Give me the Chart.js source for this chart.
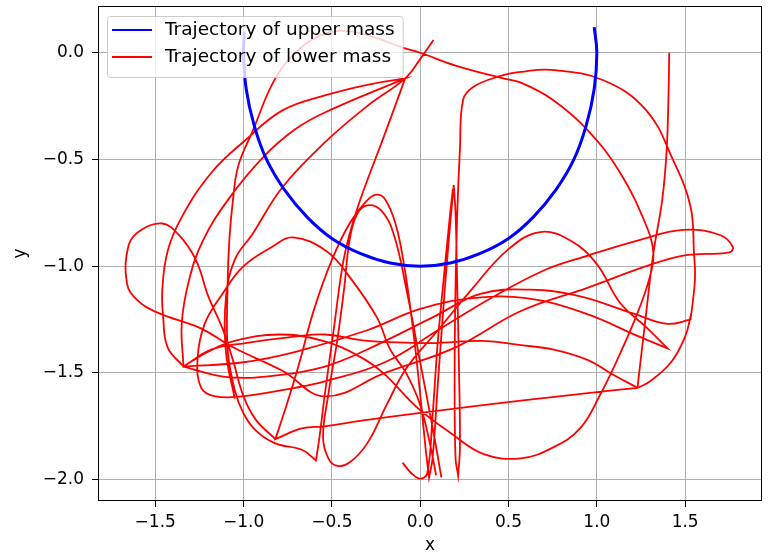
<!DOCTYPE html>
<html>
<head>
<meta charset="utf-8">
<script src="https://cdn.jsdelivr.net/npm/chart.js@4"></script>
<style>
  html, body { margin: 0; padding: 0; background: #fff; }
  #wrap { width: 774px; height: 558px; }
</style>
</head>
<body>
<div id="wrap"><canvas id="chart" width="774" height="558"></canvas></div>
<script>
// axis ticks
const xTicks = [-1.5, -1.0, -0.5, 0.0, 0.5, 1.0, 1.5];
const yTicks = [0.0, -0.5, -1.0, -1.5, -2.0];

// upper mass: runs along the unit circle
const upperPath = [
  [0.985, 0.12], [1.0, 0.0], [0.985, -0.17], [0.94, -0.34], [0.87, -0.5], [0.77, -0.64],
  [0.64, -0.77], [0.5, -0.87], [0.34, -0.94], [0.17, -0.985], [0.0, -1.0], [-0.17, -0.985],
  [-0.34, -0.94], [-0.5, -0.87], [-0.64, -0.77], [-0.77, -0.64], [-0.87, -0.5], [-0.94, -0.34],
  [-0.985, -0.17], [-1.0, 0.0], [-0.995, 0.1]
];

// lower mass
const startDrop = [
  [1.41, 0.0], [1.405, -0.22], [1.395, -0.46], [1.37, -0.69], [1.32, -0.94], [1.275, -1.25],
  [1.23, -1.57], [1.23, -1.57], [1.0, -1.59], [0.57, -1.63], [0.07, -1.68], [-0.3, -1.72],
  [-0.54, -1.75], [-0.67, -1.76], [-0.82, -1.81], [-0.82, -1.81]
];
const steepUp = [
  [-0.76, -1.66], [-0.69, -1.47], [-0.6, -1.2], [-0.5, -0.97], [-0.4, -0.8], [-0.31, -0.7],
  [-0.25, -0.665], [-0.2, -0.685], [-0.14, -0.8], [-0.09, -1.0], [-0.04, -1.3], [0.0, -1.6],
  [0.03, -1.85], [0.05, -1.99], [0.05, -1.99]
];
const spike = [
  [0.07, -1.9], [0.1, -1.55], [0.14, -1.1], [0.17, -0.8], [0.19, -0.62], [0.19, -0.62],
  [0.2, -0.75], [0.21, -1.1], [0.22, -1.5], [0.225, -1.85], [0.215, -1.98], [0.215, -1.98]
];
const topArc = [
  [0.2, -1.9], [0.195, -1.5], [0.2, -1.1], [0.21, -0.75], [0.225, -0.45], [0.243, -0.22],
  [0.3, -0.16], [0.45, -0.11], [0.57, -0.09], [0.74, -0.08], [1.04, -0.13], [1.28, -0.27],
  [1.43, -0.5], [1.53, -0.72], [1.55, -0.94], [1.556, -1.05], [1.54, -1.19], [1.53, -1.25], [1.53, -1.25]
];
const midLeft = [
  [1.4, -1.27], [1.2, -1.22], [0.9, -1.14], [0.62, -1.11], [0.34, -1.13], [0.07, -1.24],
  [-0.3, -1.39], [-0.54, -1.47], [-0.8, -1.51], [-1.09, -1.52], [-1.34, -1.47], [-1.34, -1.47]
];
const outerUp = [
  [-1.43, -1.38], [-1.455, -1.24], [-1.46, -1.11], [-1.43, -0.93], [-1.35, -0.77], [-1.18, -0.56],
  [-0.99, -0.41], [-0.78, -0.27], [-0.54, -0.2], [-0.3, -0.15], [-0.085, -0.12], [-0.085, -0.12]
];
const innerDown = [
  [-0.54, -0.28], [-0.71, -0.36], [-0.89, -0.49], [-1.08, -0.68], [-1.23, -0.88], [-1.31, -1.07],
  [-1.35, -1.27], [-1.34, -1.47], [-1.34, -1.47]
];
const upperLine = [
  [-1.18, -1.39], [-0.99, -1.36], [-0.71, -1.33], [-0.54, -1.32], [-0.3, -1.35], [0.07, -1.36],
  [0.35, -1.35], [0.57, -1.37], [0.75, -1.39], [0.95, -1.44], [1.075, -1.5], [1.23, -1.57],
  [1.23, -1.57], [1.3, -1.54], [1.42, -1.45], [1.5, -1.33], [1.535, -1.22]
];
const hubDrop = [
  [-0.085, -0.12], [-0.2, -0.38], [-0.34, -0.69], [-0.4, -0.85], [-0.44, -1.0], [-0.49, -1.3],
  [-0.54, -1.6], [-0.57, -1.8], [-0.59, -1.91], [-0.59, -1.91]
];
const tallArc = [
  [-0.67, -1.86], [-0.82, -1.83], [-0.93, -1.77], [-1.0, -1.69], [-1.05, -1.58], [-1.09, -1.39],
  [-1.09, -1.08], [-1.08, -0.87], [-1.06, -0.69], [-1.03, -0.53], [-0.95, -0.37], [-0.82, -0.12],
  [-0.68, 0.02], [-0.54, 0.09], [-0.4, 0.1], [-0.25, 0.07], [-0.11, 0.027], [0.0, 0.0],
  [0.2, -0.06], [0.47, -0.12], [0.57, -0.14], [0.75, -0.22], [0.945, -0.36], [1.13, -0.56],
  [1.285, -0.82], [1.32, -0.94], [1.3, -1.05], [1.23, -1.22], [1.115, -1.44], [1.02, -1.6],
  [0.905, -1.76], [0.75, -1.85], [0.57, -1.9], [0.36, -1.88], [0.17, -1.78], [-0.02, -1.66],
  [-0.21, -1.5], [-0.35, -1.42], [-0.55, -1.35], [-0.8, -1.32], [-1.05, -1.35], [-1.2, -1.4],
  [-1.34, -1.47]
];
const loopRun = [
  [0.09, -1.98], [0.06, -1.85], [0.0, -1.65], [-0.08, -1.5], [-0.17, -1.39], [-0.245, -1.24],
  [-0.4, -1.05], [-0.53, -0.93], [-0.72, -0.865], [-0.84, -0.91], [-1.0, -1.0], [-1.12, -1.13],
  [-1.22, -1.27], [-1.26, -1.43], [-1.24, -1.57], [-1.16, -1.61], [-1.01, -1.61], [-0.71, -1.57],
  [-0.54, -1.54], [-0.2, -1.45], [0.1, -1.3], [0.4, -1.15], [0.7, -1.02], [0.95, -0.95],
  [1.23, -0.88], [1.49, -0.83], [1.7, -0.855], [1.77, -0.91], [1.75, -0.935], [1.49, -0.95],
  [1.28, -1.0], [0.95, -1.1], [0.57, -1.21], [0.2, -1.38], [-0.2, -1.5], [-0.54, -1.61],
  [-0.78, -1.49], [-1.06, -1.38], [-1.245, -1.29], [-1.48, -1.22], [-1.6, -1.16], [-1.66, -1.08],
  [-1.65, -0.9], [-1.58, -0.83], [-1.46, -0.8], [-1.37, -0.85], [-1.27, -0.97], [-1.2, -1.14],
  [-1.12, -1.29], [-1.06, -1.44], [-1.0, -1.61], [-0.93, -1.72], [-0.82, -1.81]
];
const humpRun = [
  [0.12, -1.99], [0.08, -1.8], [0.0, -1.45], [-0.08, -1.1], [-0.15, -0.85], [-0.22, -0.74],
  [-0.3, -0.715], [-0.36, -0.76], [-0.4, -0.88], [-0.43, -1.1], [-0.47, -1.35], [-0.52, -1.6],
  [-0.55, -1.8], [-0.52, -1.9], [-0.47, -1.935], [-0.4, -1.92], [-0.3, -1.83], [-0.19, -1.65],
  [-0.08, -1.48], [0.1, -1.3], [0.3, -1.1], [0.5, -0.92], [0.68, -0.84], [0.85, -0.88],
  [1.0, -0.99], [1.13, -1.17], [1.285, -1.29], [1.4, -1.385], [1.4, -1.385], [1.24, -1.33],
  [0.93, -1.22], [0.6, -1.15], [0.3, -1.15], [0.0, -1.2], [-0.3, -1.3], [-0.7, -1.4],
  [-1.0, -1.45], [-1.34, -1.47]
];
const hookEnd = [
  [-0.1, -1.92], [-0.05, -1.97], [0.0, -1.995], [0.04, -1.97], [0.07, -1.7], [0.1, -1.35],
  [0.14, -1.0], [0.17, -0.75], [0.185, -0.64]
];
const finalRun = [
  [-1.05, -1.62], [-1.1, -1.4], [-1.1, -1.15], [-1.05, -0.97], [-0.95, -0.85], [-0.78, -0.63],
  [-0.54, -0.42], [-0.3, -0.25], [-0.085, -0.12], [0.0, -0.03], [0.075, 0.06]
];

const lowerRuns = [
  [...startDrop, ...steepUp, ...spike, ...topArc, ...midLeft, ...outerUp, ...innerDown, ...upperLine],
  [...hubDrop, ...tallArc],
  loopRun,
  humpRun,
  hookEnd,
  finalRun
];

// join the runs, a null point breaks the line between them
const lowerData = [];
lowerRuns.forEach((run, i) => {
  if (i > 0) lowerData.push({ x: null, y: null });
  run.forEach(p => lowerData.push({ x: p[0], y: p[1] }));
});
const upperData = upperPath.map(p => ({ x: p[0], y: p[1] }));

const FONT = 'DejaVu Sans';
const fmt = v => v.toFixed(1).replace('-', '\u2212');

// matplotlib style frame and legend inside the axes
const framePlugin = {
  id: 'frame',
  afterDatasetsDraw(chart) {
    const { ctx, chartArea: a } = chart;
    ctx.save();
    ctx.strokeStyle = '#000';
    ctx.lineWidth = 1;
    ctx.strokeRect(a.left + 0.5, a.top + 0.5, a.right - a.left - 1, a.bottom - a.top - 1);

    ctx.font = '18.5px "' + FONT + '"';
    const items = chart.data.datasets.map(d => ({ label: d.label, color: d.borderColor }));
    const textW = Math.max(...items.map(it => ctx.measureText(it.label).width));
    const x0 = a.left + 9, y0 = a.top + 10;
    const w = 58 + textW + 8, h = 61;
    ctx.beginPath();
    ctx.roundRect(x0 + 0.5, y0 + 0.5, w, h, 3);
    ctx.fillStyle = 'rgba(255,255,255,0.8)';
    ctx.fill();
    ctx.strokeStyle = '#cccccc';
    ctx.stroke();
    items.forEach((it, i) => {
      const cy = y0 + 14 + i * 27;
      ctx.strokeStyle = it.color;
      ctx.lineWidth = 2;
      ctx.beginPath();
      ctx.moveTo(x0 + 5, cy);
      ctx.lineTo(x0 + 45, cy);
      ctx.stroke();
      ctx.fillStyle = '#000';
      ctx.textBaseline = 'middle';
      ctx.fillText(it.label, x0 + 58, cy);
    });
    ctx.restore();
  }
};

new Chart(document.getElementById('chart'), {
  type: 'scatter',
  data: {
    datasets: [
      {
        label: 'Trajectory of upper mass',
        data: upperData,
        showLine: true,
        borderColor: '#0000ff',
        borderWidth: 3,
        pointRadius: 0,
        tension: 0.4
      },
      {
        label: 'Trajectory of lower mass',
        data: lowerData,
        showLine: true,
        spanGaps: false,
        borderColor: '#ff0000',
        borderWidth: 1.8,
        pointRadius: 0,
        tension: 0.4
      }
    ]
  },
  options: {
    responsive: false,
    animation: false,
    layout: { padding: { top: 6, right: 12, left: 0, bottom: 0 } },
    plugins: {
      legend: { display: false },
      tooltip: { enabled: false }
    },
    scales: {
      x: {
        type: 'linear',
        min: -1.824,
        max: 1.935,
        afterBuildTicks: s => { s.ticks = xTicks.map(v => ({ value: v })); },
        afterFit: s => { s.height = 57; s.paddingLeft = 0; s.paddingRight = 0; },
        grid: { color: '#b0b0b0', lineWidth: 1, tickColor: '#000', tickLength: 6 },
        border: { display: false },
        ticks: { color: '#000', font: { family: FONT, size: 17 }, padding: 5, callback: v => fmt(v), maxRotation: 0 },
        title: { display: true, text: 'x', color: '#000', font: { family: FONT, size: 17 }, padding: { top: 0, bottom: 2 } }
      },
      y: {
        type: 'linear',
        min: -2.1,
        max: 0.219,
        afterBuildTicks: s => { s.ticks = yTicks.map(v => ({ value: v })); },
        afterFit: s => { s.width = 98; s.paddingTop = 0; s.paddingBottom = 0; },
        grid: { color: '#b0b0b0', lineWidth: 1, tickColor: '#000', tickLength: 6 },
        border: { display: false },
        ticks: { color: '#000', font: { family: FONT, size: 17 }, padding: 8, callback: v => fmt(v) },
        title: { display: true, text: 'y', color: '#000', font: { family: FONT, size: 17 }, padding: { top: 10, bottom: 0 } }
      }
    }
  },
  plugins: [framePlugin]
});
</script>
</body>
</html>
